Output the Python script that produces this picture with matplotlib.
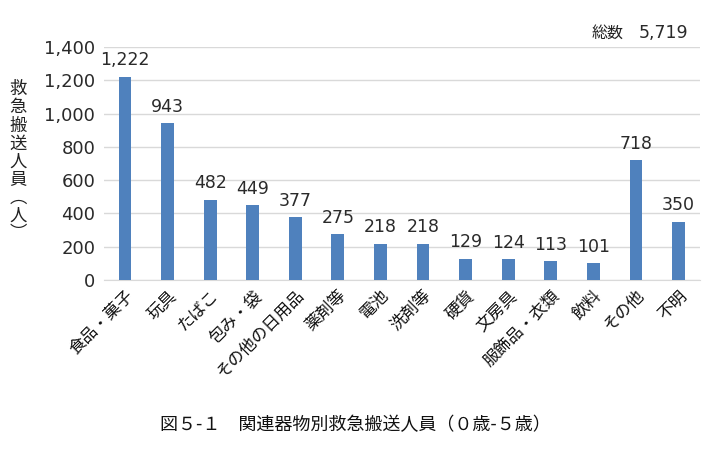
import matplotlib
matplotlib.use("Agg")
import matplotlib.pyplot as plt

plt.rcParams['font.family'] = ['Noto Sans CJK JP', 'DejaVu Sans']
NUM_FONT = ['DejaVu Sans', 'Noto Sans CJK JP']

categories = ["食品・菓子", "玩具", "たばこ", "包み・袋", "その他の日用品", "薬剤等", "電池",
              "洗剤等", "硬貨", "文房具", "服飾品・衣類", "飲料", "その他", "不明"]
values = [1222, 943, 482, 449, 377, 275, 218, 218, 129, 124, 113, 101, 718, 350]
yticks = [0, 200, 400, 600, 800, 1000, 1200, 1400]
total_title = "総数"
total_value = 5719
ylabel_chars = ["救", "急", "搬", "送", "人", "員", "︵", "人", "︶"]
caption = "図５-１　関連器物別救急搬送人員（０歳-５歳）"

fig = plt.figure(figsize=(7.2, 4.51), dpi=100)
ax = fig.add_axes([0.144, 0.379, 0.828, 0.517])

x = range(len(categories))
ax.bar(x, values, width=0.3, color="#4f81bd", zorder=3)
for xi, v in zip(x, values):
    ax.text(xi, v + 45, f"{v:,}", ha="center", va="bottom", fontsize=12.5,
            color="#2a2a2a", family=NUM_FONT)

ax.set_xlim(-0.5, len(categories) - 0.5)
ax.set_ylim(0, 1400)
ax.set_yticks(yticks)
ax.set_yticklabels([f"{t:,}" for t in yticks], fontsize=13, color="#2a2a2a",
                   family=NUM_FONT)
ax.yaxis.grid(True, color="#d9d9d9", linewidth=1, zorder=0)
ax.set_xticks(list(x))
ax.set_xticklabels(categories, rotation=45, ha="right", rotation_mode="anchor",
                   fontsize=12, color="#111111")
ax.tick_params(axis="y", length=0, pad=6)
ax.tick_params(axis="x", length=0, pad=5)
for s in ["top", "right", "left"]:
    ax.spines[s].set_visible(False)
ax.spines["bottom"].set_color("#d9d9d9")

fig.text(0.866, 0.927, total_title, ha="right", va="center", fontsize=11.5, color="#222222")
fig.text(0.956, 0.927, f"{total_value:,}", ha="right", va="center", fontsize=12.5,
         color="#2a2a2a", family=NUM_FONT)
fig.text(0.025, 0.642, "\n".join(ylabel_chars), ha="center", va="center", fontsize=12.5,
         color="#222222", linespacing=1.0)
fig.text(0.493, 0.058, caption, ha="center", va="center", fontsize=13, color="#111111")

fig.savefig("out.png", dpi=100)
